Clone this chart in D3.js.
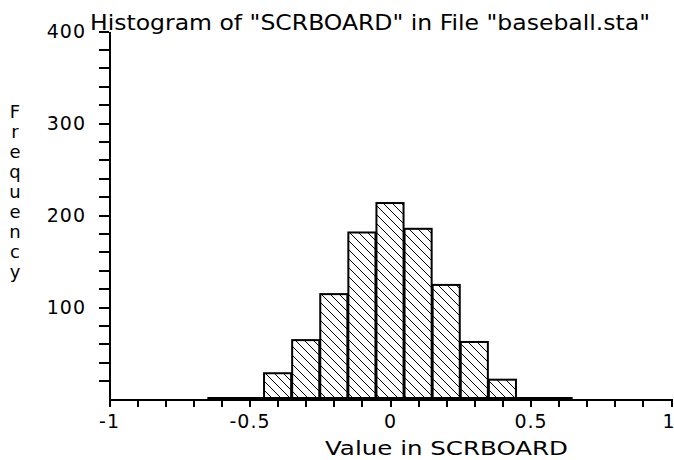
<!DOCTYPE html>
<html lang="en">
    <head>
        <meta charset="utf-8">
        <style>
            body {
                margin: 0;
                background: #fff;
            }

            svg text {
                font-family: "DejaVu Sans", sans-serif;
                fill: #000;
            }

            .axis path, .axis line {
                stroke: #000;
                stroke-width: 2;
                shape-rendering: crispEdges;
            }
        </style>
    </head>
    <body>
        <div id="chart"></div>
        <script src="https://d3js.org/d3.v7.min.js"></script>
        <script type="text/javascript" charset="utf-8">
            // histogram bins (centres) and their counts
            var binCenters = [-0.6, -0.5, -0.4, -0.3, -0.2, -0.1, 0, 0.1, 0.2, 0.3, 0.4, 0.5, 0.6];
            var counts = [0, 0, 28, 64, 114, 181, 213, 185, 124, 62, 21, 0, 0];
            var binWidth = 0.1;

            var xLabels = [-1, -0.5, 0, 0.5, 1];
            var yLabels = [100, 200, 300, 400];

            var svg = d3.select("#chart")
                .append("svg")
                .attr("width", 674)
                .attr("height", 460);

            var x = d3.scaleLinear().domain([-1, 1]).range([109, 671]);
            var y = d3.scaleLinear().domain([0, 400]).range([399, 31]);

            // hatch pattern
            var pat = svg.append("defs").append("pattern")
                .attr("id", "hatch")
                .attr("patternUnits", "userSpaceOnUse")
                .attr("width", 9)
                .attr("height", 9);
            pat.append("rect").attr("width", 9).attr("height", 9).attr("fill", "#fff");
            pat.append("path")
                .attr("d", "M0,0 L9,9 M-4.5,4.5 L4.5,13.5 M4.5,-4.5 L13.5,4.5")
                .attr("stroke", "#000")
                .attr("stroke-width", 1);

            var bars = binCenters.map(function(c, i) {
                return {x0: c - binWidth / 2, x1: c + binWidth / 2, n: counts[i]};
            });

            // axes
            var yAxis = d3.axisLeft(y)
                .tickValues(d3.range(20, 401, 20))
                .tickSize(10)
                .tickSizeOuter(0)
                .tickPadding(13)
                .tickFormat(function(d) { return yLabels.indexOf(d) >= 0 ? String(d) : ""; });

            var xAxis = d3.axisBottom(x)
                .tickValues(d3.range(-10, 11).map(function(i) { return i / 10; }))
                .tickSize(8)
                .tickSizeOuter(0)
                .tickPadding(8)
                .tickFormat(function(d) {
                    var hit = xLabels.filter(function(v) { return Math.abs(v - d) < 1e-9; });
                    return hit.length ? String(hit[0]) : "";
                });

            svg.append("g")
                .attr("class", "axis")
                .attr("transform", "translate(" + x(-1) + ",0)")
                .call(yAxis)
                .call(function(g) {
                    g.selectAll("text").attr("font-size", 19).attr("font-family", null).style("letter-spacing", "1px");
                });

            svg.append("g")
                .attr("class", "axis")
                .attr("transform", "translate(0," + y(0) + ")")
                .call(xAxis)
                .call(function(g) {
                    g.selectAll("text").attr("font-size", 19).attr("font-family", null).style("letter-spacing", "1px");
                    // last label sits against the right edge
                    g.selectAll(".tick text")
                        .filter(function(d) { return Math.abs(d - 1) < 1e-9; })
                        .attr("text-anchor", "end")
                        .attr("x", 4);
                });

            // bars
            var barG = svg.append("g");
            barG.selectAll("rect")
                .data(bars.filter(function(d) { return d.n > 0; })).enter()
                .append("rect")
                .attr("x", function(d) { return x(d.x0) + 0.5; })
                .attr("width", function(d) { return x(d.x1) - x(d.x0) - 1; })
                .attr("y", function(d) { return y(d.n); })
                .attr("height", function(d) { return y(0) - y(d.n); })
                .attr("fill", "url(#hatch)")
                .attr("stroke", "#000")
                .attr("stroke-width", 2);

            // empty bins collapse into a heavy line on the baseline
            barG.append("line")
                .attr("x1", x(bars[0].x0))
                .attr("x2", x(bars[bars.length - 1].x1))
                .attr("y1", y(0) - 0.5)
                .attr("y2", y(0) - 0.5)
                .attr("stroke", "#000")
                .attr("stroke-width", 3);

            // title
            svg.append("text")
                .attr("x", 90)
                .attr("y", 30)
                .attr("font-size", 21)
                .attr("textLength", 560)
                .attr("lengthAdjust", "spacingAndGlyphs")
                .text('Histogram of "SCRBOARD" in File "baseball.sta"');

            // x label
            svg.append("text")
                .attr("x", 325)
                .attr("y", 455)
                .attr("font-size", 19)
                .attr("textLength", 243)
                .attr("lengthAdjust", "spacingAndGlyphs")
                .text("Value in SCRBOARD");

            // y label, one letter per line
            svg.append("g")
                .selectAll("text")
                .data("Frequency".split("")).enter()
                .append("text")
                .attr("x", 15)
                .attr("y", function(d, i) { return 118 + i * 20; })
                .attr("text-anchor", "middle")
                .attr("font-size", 18)
                .text(function(d) { return d; });
        </script>
    </body>
</html>
